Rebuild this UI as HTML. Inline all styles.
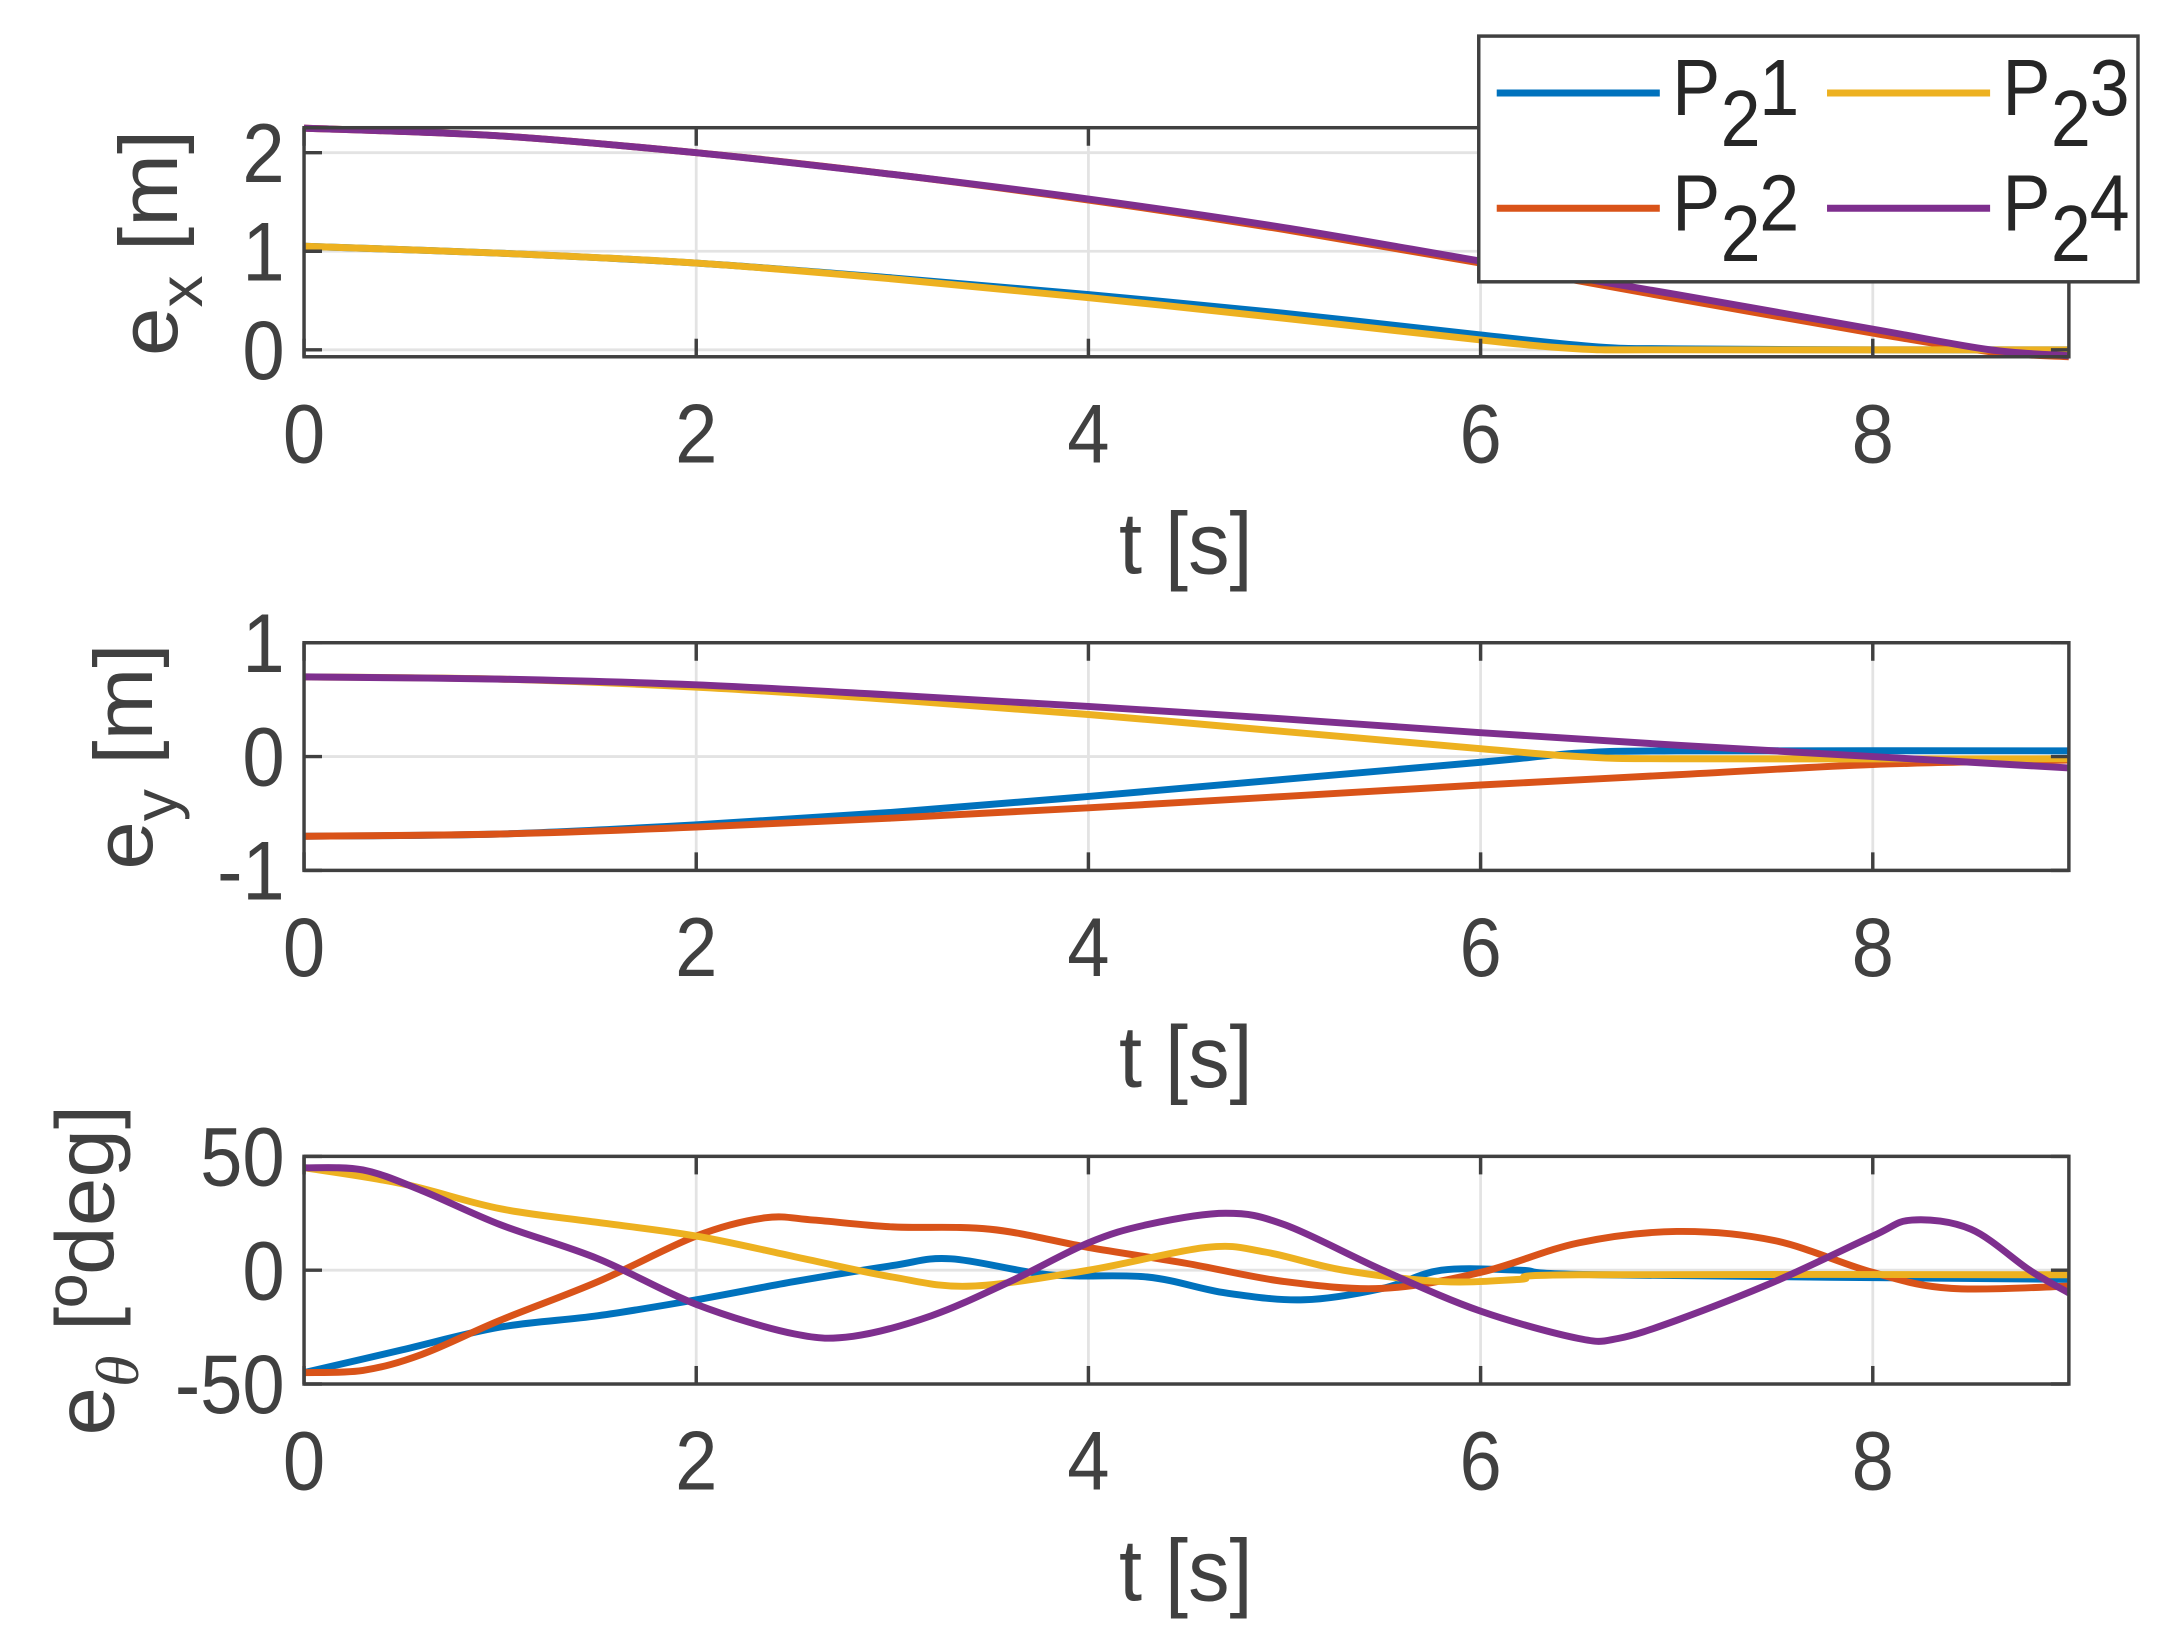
<!DOCTYPE html>
<html><head><meta charset="utf-8"><style>
html,body{margin:0;padding:0;background:#fff;}
svg{display:block;}
text{font-family:"Liberation Sans",Arial,sans-serif;}
</style></head><body>
<svg id="s" width="2167" height="1645" viewBox="0 0 1568 1185" preserveAspectRatio="none" xmlns="http://www.w3.org/2000/svg">
<rect width="1568" height="1185" fill="#fff"/>
<g id="g"></g>
</svg>
<script>
const NS="http://www.w3.org/2000/svg";
const g=document.getElementById('g');
function el(t,a,txt){const e=document.createElementNS(NS,t);for(const k in a)e.setAttribute(k,a[k]);if(txt!==undefined)e.textContent=txt;g.appendChild(e);return e;}
function txt(x,y,s,size,anchor,sy,fill){return el('text',{transform:`translate(${x},${y}) scale(1,${sy})`,x:0,y:0,"font-size":size,fill:fill||"#404040","text-anchor":anchor},s);}
const X0=220,X1=1497;const xs=t=>X0+(X1-X0)*t/9;
const C={b:"#0072BD",o:"#D95319",y:"#EDB120",p:"#7E2F8E"};
function path(pts,fx,fy){
  const P=pts.map(p=>[fx(p[0]),fy(p[1])]);
  let d="M"+P[0][0].toFixed(1)+","+P[0][1].toFixed(1);
  for(let i=0;i<P.length-1;i++){
    const p0=P[Math.max(0,i-1)],p1=P[i],p2=P[i+1],p3=P[Math.min(P.length-1,i+2)];
    const c1=[p1[0]+(p2[0]-p0[0])/6,p1[1]+(p2[1]-p0[1])/6];
    const c2=[p2[0]-(p3[0]-p1[0])/6,p2[1]-(p3[1]-p1[1])/6];
    d+=` C${c1[0].toFixed(1)},${c1[1].toFixed(1)} ${c2[0].toFixed(1)},${c2[1].toFixed(1)} ${p2[0].toFixed(1)},${p2[1].toFixed(1)}`;
  }
  return d;
}
function axes(top,bot,yt,fy){
  for(let t=2;t<=8;t+=2) el('line',{x1:xs(t),x2:xs(t),y1:top,y2:bot,stroke:"#e3e3e3","stroke-width":2});
  yt.forEach(v=>{const y=fy(v);if(y>top+1&&y<bot-1)el('line',{x1:X0,x2:X1,y1:y,y2:y,stroke:"#e3e3e3","stroke-width":2});});
}
function frame(top,bot,yt,fy,labels,tickY,xlY){
  el('rect',{x:X0,y:top,width:X1-X0,height:bot-top,fill:"none",stroke:"#404040","stroke-width":2.5});
  for(let t=0;t<=8;t+=2){el('line',{x1:xs(t),x2:xs(t),y1:bot,y2:bot-13,stroke:"#404040","stroke-width":2.5});el('line',{x1:xs(t),x2:xs(t),y1:top,y2:top+13,stroke:"#404040","stroke-width":2.5});
    txt(xs(t),tickY,String(t),55,"middle",1.1);}
  yt.forEach((v,i)=>{const y=fy(v);el('line',{x1:X0,x2:X0+13,y1:y,y2:y,stroke:"#404040","stroke-width":2.5});el('line',{x1:X1,x2:X1-13,y1:y,y2:y,stroke:"#404040","stroke-width":2.5});
    txt(206,y+21,labels[i],55,"end",1.1);});
  txt(858,xlY,"t [s]",60,"middle",1.05);
}
function series(list,fy){list.forEach(([c,pts])=>el('path',{d:path(pts,xs,fy),fill:"none",stroke:C[c],"stroke-width":5,"stroke-linejoin":"round"}));}

let fy1=v=>252-71*v;
axes(92,257,[0,1,2],fy1);
series([
 ["b",[[0,1.05],[1,0.98],[2,0.88],[3,0.73],[4,0.56],[5,0.37],[6,0.15],[6.6,0.03],[7,0.01],[8,0.0],[9,0.0]]],
 ["o",[[0,2.25],[1,2.17],[2,2.0],[3,1.78],[4,1.52],[5,1.22],[6,0.88],[7,0.52],[8,0.17],[8.6,-0.02],[9,-0.07]]],
 ["y",[[0,1.05],[1,0.98],[2,0.88],[3,0.72],[4,0.53],[5,0.32],[6,0.1],[6.5,0.01],[7,0.0],[9,0.0]]],
 ["p",[[0,2.25],[1,2.17],[2,2.0],[3,1.78],[4,1.53],[5,1.24],[6,0.9],[7,0.56],[8,0.21],[8.6,0.0],[9,-0.06]]]
],fy1);
frame(92,257,[0,1,2],fy1,["0","1","2"],333,413);

let fy2=v=>545-82*v;
axes(463,627,[-1,0,1],fy2);
series([
 ["b",[[0,-0.7],[1,-0.68],[2,-0.6],[3,-0.49],[4,-0.35],[5,-0.2],[6,-0.05],[6.5,0.03],[7,0.05],[9,0.05]]],
 ["o",[[0,-0.7],[1,-0.68],[2,-0.62],[3,-0.54],[4,-0.45],[5,-0.35],[6,-0.25],[7,-0.16],[8,-0.07],[9,-0.03]]],
 ["y",[[0,0.7],[1,0.68],[2,0.61],[3,0.5],[4,0.37],[5,0.22],[6,0.07],[6.5,0.0],[7,-0.02],[9,-0.02]]],
 ["p",[[0,0.7],[1,0.68],[2,0.63],[3,0.54],[4,0.44],[5,0.33],[6,0.21],[7,0.1],[8,0.0],[9,-0.1]]]
],fy2);
frame(463,627,[-1,0,1],fy2,["-1","0","1"],703,783);

let fy3=v=>915-1.64*v;
axes(833,997,[-50,0,50],fy3);
series([
 ["b",[[0,-45],[0.5,-35],[1,-25],[1.5,-20],[2,-13],[2.5,-5],[3,2],[3.3,5],[3.8,-2],[4.3,-3],[4.7,-10],[5.1,-13],[5.5,-8],[5.8,0],[6.2,0],[6.6,-2],[9,-4]]],
 ["o",[[0,-45],[0.3,-44],[0.6,-37],[1,-22],[1.5,-5],[2,15],[2.35,23],[2.6,22],[3,19],[3.5,18],[4,10],[4.5,3],[5,-5],[5.5,-8],[6,-1],[6.5,12],[7,17],[7.5,13],[8,-1],[8.4,-8],[9,-7]]],
 ["y",[[0,45],[0.5,38],[1,27],[1.5,21],[2,15],[2.5,6],[3,-3],[3.4,-7],[4,0],[4.6,10],[4.9,8],[5.3,0],[5.8,-5],[6.2,-4],[6.5,-2],[9,-2]]],
 ["p",[[0,45],[0.3,44],[0.6,35],[1,20],[1.5,5],[2,-15],[2.5,-28],[2.8,-29],[3.2,-20],[3.6,-5],[4,12],[4.3,20],[4.7,25],[5,20],[5.5,0],[6,-18],[6.5,-30],[6.7,-30],[7,-22],[7.5,-5],[8,15],[8.2,22],[8.5,18],[8.8,0],[9,-10]]]
],fy3);
frame(833,997,[-50,0,50],fy3,["-50","0","50"],1073,1153);

function ylab(x,cy,sub,rest,subItalic){
  const t=el('text',{transform:`translate(${x},${cy}) rotate(-90) scale(1.05,1)`,"font-size":60,fill:"#404040","text-anchor":"middle"});
  const a=document.createElementNS(NS,'tspan');a.textContent="e";t.appendChild(a);
  const b=document.createElementNS(NS,'tspan');b.textContent=sub;b.setAttribute('dy',"18");b.setAttribute('font-size',"44");
  if(subItalic){b.setAttribute('font-style','italic');b.setAttribute('font-family','"Liberation Serif",serif');}
  t.appendChild(b);
  const c=document.createElementNS(NS,'tspan');c.textContent=rest;c.setAttribute('dy',"-18");t.appendChild(c);
}
ylab(128,175,"x"," [m]");
ylab(110,545,"y"," [m]");
ylab(82,915,"θ"," [ºdeg]",true);

el('rect',{x:1070,y:26,width:477,height:177,fill:"#fff",stroke:"#404040","stroke-width":2.5});
[["b","1",1083,67],["o","2",1083,150],["y","3",1322,67],["p","4",1322,150]].forEach(([c,n,x,y])=>{
  el('line',{x1:x,x2:x+118,y1:y,y2:y,stroke:C[c],"stroke-width":5});
  txt(x+127,y+16,"P",52,"start",1.1,"#262626");
  txt(x+162,y+38,"2",52,"start",1.1,"#262626");
  txt(x+190,y+16,n,52,"start",1.1,"#262626");
});
</script>
</body></html>
